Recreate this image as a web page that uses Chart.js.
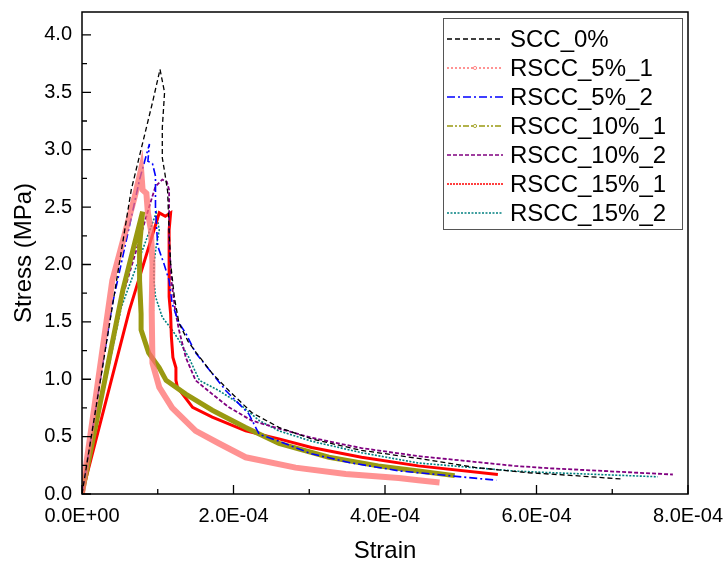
<!DOCTYPE html>
<html>
<head>
<meta charset="utf-8">
<script src="https://cdn.jsdelivr.net/npm/chart.js@4/dist/chart.umd.min.js"></script>
<style>
  html, body { margin: 0; padding: 0; background: #fff; }
</style>
</head>
<body>
<canvas id="stressStrain" width="726" height="569"></canvas>
<script>
// strain / stress
const scc0Strain = [0, 0.65e-4, 0.93e-4, 1.03e-4, 1.09e-4, 1.06e-4, 1.06e-4, 1.09e-4, 1.13e-4, 1.15e-4, 1.17e-4, 1.22e-4, 1.28e-4, 1.40e-4, 1.51e-4, 1.72e-4, 1.94e-4, 2.24e-4, 2.60e-4, 3.03e-4, 3.69e-4, 4.44e-4, 5.20e-4, 5.90e-4, 6.50e-4, 7.14e-4];
const scc0Stress = [0, 2.65, 3.41, 3.70, 3.50, 3.19, 2.93, 2.81, 2.64, 2.29, 2.01, 1.71, 1.49, 1.33, 1.23, 1.05, 0.90, 0.71, 0.58, 0.48, 0.38, 0.31, 0.23, 0.185, 0.16, 0.13];

const rscc5aStrain = [0, 0.40e-4, 0.70e-4, 0.78e-4, 0.80e-4, 0.85e-4, 0.87e-4, 0.91e-4, 0.93e-4, 0.92e-4, 0.93e-4, 1.02e-4, 1.19e-4, 1.50e-4, 1.81e-4, 2.16e-4, 2.82e-4, 3.48e-4, 4.18e-4, 4.44e-4, 4.72e-4];
const rscc5aStress = [0, 1.86, 2.60, 2.83, 2.65, 2.62, 2.45, 2.30, 2.00, 1.60, 1.14, 0.93, 0.75, 0.55, 0.44, 0.32, 0.23, 0.175, 0.14, 0.12, 0.10];

const rscc5bStrain = [0, 0.40e-4, 0.76e-4, 0.89e-4, 0.87e-4, 0.93e-4, 0.97e-4, 0.97e-4, 1.00e-4, 1.08e-4, 1.15e-4, 1.19e-4, 1.28e-4, 1.37e-4, 1.50e-4, 1.72e-4, 1.90e-4, 2.20e-4, 2.34e-4, 2.60e-4, 3.03e-4, 3.56e-4, 4.20e-4, 4.84e-4, 5.47e-4];
const rscc5bStress = [0, 1.65, 2.74, 3.05, 2.90, 2.88, 2.77, 2.48, 2.16, 2.01, 1.86, 1.66, 1.49, 1.40, 1.23, 1.05, 0.90, 0.70, 0.52, 0.46, 0.35, 0.27, 0.20, 0.16, 0.12];

const rscc10aStrain = [0, 0.54e-4, 0.80e-4, 0.76e-4, 0.76e-4, 0.78e-4, 0.78e-4, 0.88e-4, 1.02e-4, 1.11e-4, 1.37e-4, 1.72e-4, 2.16e-4, 2.60e-4, 3.26e-4, 3.91e-4, 4.44e-4, 4.92e-4];
const rscc10aStress = [0, 1.78, 2.46, 2.16, 1.86, 1.57, 1.43, 1.23, 1.10, 0.99, 0.87, 0.73, 0.58, 0.44, 0.32, 0.245, 0.20, 0.16];

const rscc10bStrain = [0, 0.49e-4, 0.89e-4, 0.97e-4, 1.06e-4, 1.12e-4, 1.15e-4, 1.15e-4, 1.15e-4, 1.18e-4, 1.23e-4, 1.28e-4, 1.37e-4, 1.50e-4, 1.72e-4, 1.94e-4, 2.24e-4, 2.60e-4, 3.03e-4, 3.69e-4, 4.44e-4, 5.71e-4, 6.15e-4, 7.80e-4];
const rscc10bStress = [0, 1.62, 2.51, 2.68, 2.74, 2.72, 2.65, 2.50, 2.20, 1.86, 1.60, 1.43, 1.19, 0.99, 0.87, 0.755, 0.64, 0.57, 0.49, 0.40, 0.33, 0.245, 0.225, 0.17];

const rscc15aStrain = [0, 0.625e-4, 1.02e-4, 1.10e-4, 1.17e-4, 1.15e-4, 1.15e-4, 1.15e-4, 1.17e-4, 1.18e-4, 1.20e-4, 1.24e-4, 1.24e-4, 1.26e-4, 1.46e-4, 1.72e-4, 2.16e-4, 2.60e-4, 3.03e-4, 3.69e-4, 4.44e-4, 5.49e-4];
const rscc15aStress = [0, 1.60, 2.45, 2.42, 2.45, 2.30, 2.01, 1.72, 1.57, 1.37, 1.19, 1.10, 0.99, 0.93, 0.755, 0.67, 0.55, 0.48, 0.405, 0.32, 0.245, 0.17];

const rscc15bStrain = [0, 0.52e-4, 0.98e-4, 1.02e-4, 0.98e-4, 0.95e-4, 0.95e-4, 0.97e-4, 1.06e-4, 1.19e-4, 1.28e-4, 1.41e-4, 1.55e-4, 1.81e-4, 2.07e-4, 2.34e-4, 2.60e-4, 3.03e-4, 3.69e-4, 4.44e-4, 5.71e-4, 6.15e-4, 7.60e-4];
const rscc15bStress = [0, 1.63, 2.45, 2.30, 2.16, 2.01, 1.86, 1.72, 1.54, 1.43, 1.34, 1.19, 0.99, 0.90, 0.79, 0.64, 0.55, 0.46, 0.36, 0.27, 0.20, 0.187, 0.15];

const seriesNames = ['SCC_0%', 'RSCC_5%_1', 'RSCC_5%_2', 'RSCC_10%_1', 'RSCC_10%_2', 'RSCC_15%_1', 'RSCC_15%_2'];
const xTickValues = [0, 2e-4, 4e-4, 6e-4, 8e-4];
const yTickValues = [0, 0.5, 1.0, 1.5, 2.0, 2.5, 3.0, 3.5, 4.0];

const FONT = '"Liberation Sans", Arial, sans-serif';
Chart.defaults.font.family = FONT;
Chart.defaults.color = '#000';

function pts(xs, ys) {
  return xs.map((x, i) => ({ x: x, y: ys[i] }));
}

function sci(v) {
  if (Math.abs(v) < 1e-12) return '0.0E+00';
  const e = Math.floor(Math.log10(Math.abs(v)) + 1e-9);
  const m = v / Math.pow(10, e);
  return m.toFixed(1) + 'E' + (e < 0 ? '-' : '+') + String(Math.abs(e)).padStart(2, '0');
}

// line looks: colour, width, dash for plot + legend sample
const looks = [
  { color: '#000000', width: 1.3, dash: [5, 3], legendColor: '#000000' },
  { color: 'rgba(255,110,110,0.75)', width: 6, dash: [], legendColor: '#ff7070', legendDash: [2, 2], marker: true },
  { color: '#0000ff', width: 1.6, dash: [8, 3, 2, 3], legendColor: '#0000ff' },
  { color: '#999910', width: 5, dash: [], legendColor: '#999910', legendDash: [6, 2, 2, 2, 2, 2], marker: true },
  { color: '#800080', width: 1.8, dash: [4, 2], legendColor: '#800080' },
  { color: '#ff0000', width: 3, dash: [], legendColor: '#ff0000', legendDash: [2, 1] },
  { color: '#008080', width: 1.6, dash: [2, 1.5], legendColor: '#008080' }
];

const xs = [scc0Strain, rscc5aStrain, rscc5bStrain, rscc10aStrain, rscc10bStrain, rscc15aStrain, rscc15bStrain];
const ys = [scc0Stress, rscc5aStress, rscc5bStress, rscc10aStress, rscc10bStress, rscc15aStress, rscc15bStress];

const datasets = seriesNames.map((name, i) => ({
  label: name,
  data: pts(xs[i], ys[i]),
  borderColor: looks[i].color,
  borderWidth: looks[i].width,
  borderDash: looks[i].dash,
  pointRadius: 0,
  showLine: true,
  fill: false,
  tension: 0
}));

// frame and inward ticks
const frameTicks = {
  id: 'frameTicks',
  afterDatasetsDraw(chart) {
    const { ctx, chartArea: a, scales } = chart;
    ctx.save();
    ctx.strokeStyle = '#000';
    ctx.lineWidth = 1.5;
    ctx.strokeRect(a.left, a.top, a.right - a.left, a.bottom - a.top);
    ctx.lineWidth = 1.3;
    ctx.beginPath();
    for (let i = 0; i < xTickValues.length; i++) {
      const px = scales.x.getPixelForValue(xTickValues[i]);
      ctx.moveTo(px, a.bottom); ctx.lineTo(px, a.bottom - 9);
      if (i < xTickValues.length - 1) {
        const mx = scales.x.getPixelForValue((xTickValues[i] + xTickValues[i + 1]) / 2);
        ctx.moveTo(mx, a.bottom); ctx.lineTo(mx, a.bottom - 5);
      }
    }
    for (let i = 0; i < yTickValues.length; i++) {
      const py = scales.y.getPixelForValue(yTickValues[i]);
      ctx.moveTo(a.left, py); ctx.lineTo(a.left + 9, py);
      const mid = yTickValues[i] + 0.25;
      if (mid < scales.y.max) {
        const my = scales.y.getPixelForValue(mid);
        ctx.moveTo(a.left, my); ctx.lineTo(a.left + 5, my);
      }
    }
    ctx.stroke();
    ctx.restore();
  }
};

// legend box inside the plot, top right
const boxLegend = {
  id: 'boxLegend',
  afterDraw(chart) {
    const { ctx } = chart;
    const bx = 443, by = 18, bw = 239, bh = 211;
    ctx.save();
    ctx.fillStyle = '#fff';
    ctx.fillRect(bx, by, bw, bh);
    ctx.strokeStyle = '#555';
    ctx.lineWidth = 1;
    ctx.strokeRect(bx + 0.5, by + 0.5, bw, bh);
    ctx.font = '24px ' + FONT;
    ctx.textBaseline = 'middle';
    ctx.textAlign = 'left';
    seriesNames.forEach((name, i) => {
      const y = 39 + i * 29;
      const lk = looks[i];
      ctx.strokeStyle = lk.legendColor;
      ctx.lineWidth = 1.4;
      ctx.setLineDash(lk.legendDash || lk.dash);
      ctx.beginPath();
      ctx.moveTo(447, y);
      ctx.lineTo(503, y);
      ctx.stroke();
      ctx.setLineDash([]);
      if (lk.marker) {
        ctx.beginPath();
        ctx.arc(475, y, 1.6, 0, Math.PI * 2);
        ctx.fillStyle = '#fff';
        ctx.fill();
        ctx.lineWidth = 0.8;
        ctx.stroke();
      }
      ctx.fillStyle = '#000';
      ctx.fillText(name, 510, y + 1);
    });
    ctx.restore();
  }
};

new Chart(document.getElementById('stressStrain'), {
  type: 'scatter',
  data: { datasets: datasets },
  options: {
    responsive: false,
    animation: false,
    devicePixelRatio: 1,
    layout: { padding: { top: 12, right: 38, left: 0, bottom: 0 } },
    plugins: {
      legend: { display: false },
      tooltip: { enabled: false }
    },
    scales: {
      x: {
        type: 'linear',
        min: 0,
        max: 8e-4,
        afterFit(scale) { scale.height = 75; scale.paddingLeft = 0; scale.paddingRight = 0; },
        afterBuildTicks(scale) { scale.ticks = xTickValues.map(v => ({ value: v })); },
        grid: { display: false, drawTicks: false },
        border: { display: false },
        ticks: {
          font: { size: 20 },
          color: '#000',
          padding: 10,
          maxRotation: 0,
          autoSkip: false,
          callback: (v) => sci(v)
        },
        title: {
          display: true,
          text: 'Strain',
          font: { size: 24 },
          color: '#000',
          padding: { top: 0, bottom: 3 }
        }
      },
      y: {
        type: 'linear',
        min: 0,
        max: 4.2,
        afterFit(scale) { scale.width = 82; scale.paddingTop = 0; scale.paddingBottom = 0; },
        afterBuildTicks(scale) { scale.ticks = yTickValues.map(v => ({ value: v })); },
        grid: { display: false, drawTicks: false },
        border: { display: false },
        ticks: {
          font: { size: 20 },
          color: '#000',
          padding: 10,
          autoSkip: false,
          callback: (v) => v.toFixed(1)
        },
        title: {
          display: true,
          text: 'Stress (MPa)',
          font: { size: 24 },
          color: '#000',
          padding: { top: 10, bottom: 0 }
        }
      }
    }
  },
  plugins: [frameTicks, boxLegend]
});
</script>
</body>
</html>
